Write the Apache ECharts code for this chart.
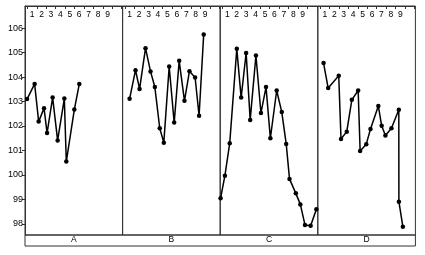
<!DOCTYPE html>
<html>
<head>
<meta charset="utf-8">
<script src="https://cdn.jsdelivr.net/npm/echarts@6/dist/echarts.min.js"></script>
<style>html,body{margin:0;padding:0;background:#fff}#c{width:425px;height:255px}</style>
</head>
<body>
<div id="c"></div>
<script>
const panels = ['A', 'B', 'C', 'D'];
const xLabels = [1, 2, 3, 4, 5, 6, 7, 8, 9];
const xTicks = [0.5, 1.5, 2.5, 3.5, 4.5, 5.5, 6.5, 7.5, 8.5, 9.5, 10.5];
const yTicks = [98, 99, 100, 101, 102, 103, 104, 105, 106];

const xA = [0.47, 1.27, 1.70, 2.27, 2.59, 3.18, 3.71, 4.42, 4.63, 5.48, 6.01];
const yA = [103.10, 103.72, 102.18, 102.73, 101.71, 103.16, 101.41, 103.12, 100.55, 102.67, 103.72];

const xB = [0.99, 1.62, 2.05, 2.68, 3.21, 3.67, 4.19, 4.62, 5.19, 5.72, 6.25, 6.81, 7.34, 7.94, 8.36, 8.85];
const yB = [103.11, 104.28, 103.51, 105.18, 104.23, 103.59, 101.91, 101.32, 104.43, 102.14, 104.66, 103.03, 104.24, 103.98, 102.42, 105.74];

const xC = [0.29, 0.75, 1.26, 2.01, 2.47, 3.00, 3.43, 4.04, 4.57, 5.11, 5.57, 6.24, 6.78, 7.25, 7.60, 8.27, 8.75, 9.24, 9.84, 10.45];
const yC = [99.05, 99.97, 101.30, 105.15, 103.16, 104.98, 102.25, 104.88, 102.53, 103.59, 101.50, 103.45, 102.57, 101.27, 99.84, 99.25, 98.80, 97.96, 97.93, 98.60];

const xD = [0.86, 1.35, 2.47, 2.71, 3.32, 3.86, 4.53, 4.74, 5.39, 5.84, 6.67, 7.02, 7.42, 8.06, 8.84, 8.85, 9.27];
const yD = [104.57, 103.55, 104.05, 101.47, 101.77, 103.07, 103.45, 100.98, 101.26, 101.88, 102.82, 102.01, 101.61, 101.91, 102.66, 98.91, 97.89];

const xs = [xA, xB, xC, xD];
const ys = [yA, yB, yC, yD];

const LEFT = 25, TOP = 6, PW = 97.6, PH = 229, STRIP = 11;
const XMIN = 0.25, XMAX = 10.6, YMIN = 97.55, YMAX = 106.9;
const FONT = 'Liberation Sans, Arial, sans-serif';
const BORDER = '#333';

const grid = [], xAxis = [], yAxis = [], series = [];
panels.forEach((p, i) => {
  grid.push({left: LEFT + i * PW, top: TOP, width: PW, height: PH, show: true,
    borderColor: BORDER, borderWidth: 1, backgroundColor: 'transparent',
    containLabel: false, outerBoundsMode: 'none'});
  xAxis.push({type: 'value', gridIndex: i, position: 'top', min: XMIN, max: XMAX,
    axisLine: {show: true, lineStyle: {color: BORDER, width: 1}},
    axisTick: {show: true, inside: true, length: 3, customValues: xTicks, lineStyle: {color: BORDER}},
    axisLabel: {show: true, inside: true, margin: 4, customValues: xLabels, fontSize: 8.5,
      fontFamily: FONT, color: '#000'},
    splitLine: {show: false}});
  yAxis.push({type: 'value', gridIndex: i, min: YMIN, max: YMAX,
    axisLine: {show: i === 0, lineStyle: {color: BORDER}},
    axisTick: {show: i === 0, length: 3, customValues: yTicks, lineStyle: {color: BORDER}},
    axisLabel: {show: i === 0, margin: 2, customValues: yTicks, fontSize: 9,
      fontFamily: FONT, color: '#000'},
    splitLine: {show: false}});
  series.push({type: 'line', xAxisIndex: i, yAxisIndex: i,
    data: xs[i].map((x, k) => [x, ys[i][k]]),
    symbol: 'circle', symbolSize: 4.5, clip: false,
    lineStyle: {color: '#000', width: 1.5}, itemStyle: {color: '#000'}});
});

// strip row with panel names
const si = panels.length;
grid.push({left: LEFT, top: TOP + PH, width: PW * panels.length, height: STRIP, show: true,
  borderColor: BORDER, borderWidth: 1, backgroundColor: 'transparent',
  containLabel: false, outerBoundsMode: 'none'});
xAxis.push({type: 'category', gridIndex: si, data: panels, position: 'bottom',
  axisLine: {show: false}, axisTick: {show: false}, splitLine: {show: false},
  axisLabel: {inside: true, margin: 1.5, fontSize: 8.5, fontFamily: FONT, color: '#000'}});
yAxis.push({type: 'value', gridIndex: si, show: false, min: 0, max: 1});

const chart = echarts.init(document.getElementById('c'), null, {renderer: 'canvas'});
chart.setOption({animation: false, backgroundColor: '#fff', grid, xAxis, yAxis, series});
</script>
</body>
</html>
